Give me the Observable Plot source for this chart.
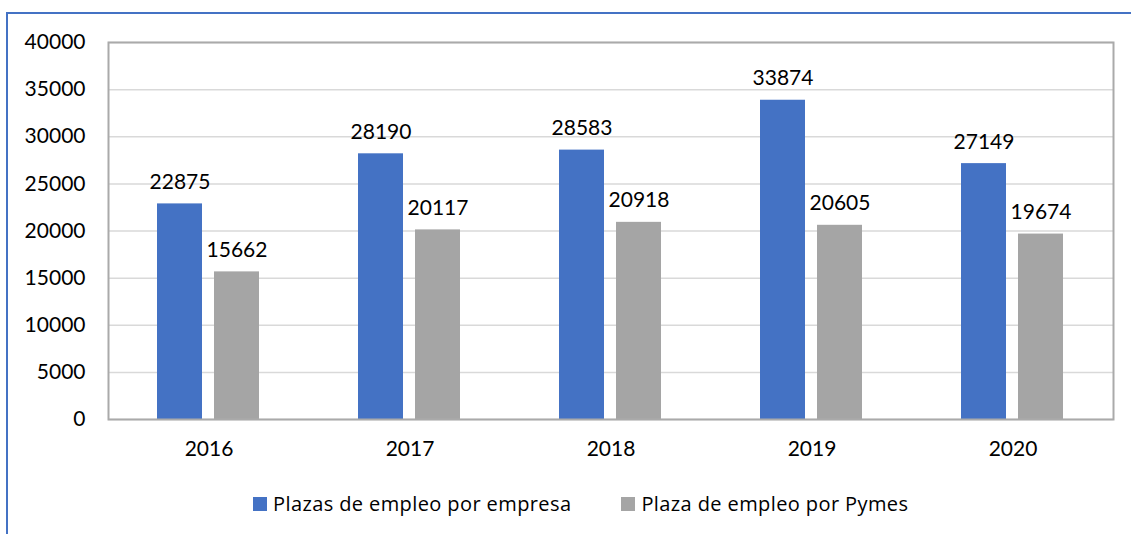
<!DOCTYPE html>
<html>
<head>
<meta charset="utf-8">
<script src="https://cdn.jsdelivr.net/npm/d3@7"></script>
<script src="https://cdn.jsdelivr.net/npm/@observablehq/plot@0.6"></script>
<style>
  html, body { margin: 0; padding: 0; background: #fff; }
  body { width: 1131px; height: 534px; position: relative; overflow: hidden; font-family: Lato, "Open Sans", sans-serif; }
  #border { position: absolute; left: 6px; top: 12px; right: 0; bottom: 0; border-top: 2px solid #4472C4; border-left: 2px solid #4472C4; }
  #chart { position: absolute; left: 0; top: 0; }
  #legend { position: absolute; left: 253px; top: 490px; display: flex; align-items: center; font-family: "Open Sans", sans-serif; font-size: 20px; letter-spacing: 0.4px; color: #000; white-space: nowrap; }
  .item { display: flex; align-items: center; margin-right: 50px; }
  .sw { width: 14px; height: 14px; margin-right: 6px; }
</style>
</head>
<body>
<div id="border"></div>
<div id="chart"></div>
<div id="legend"></div>
<script>
const years = ["2016", "2017", "2018", "2019", "2020"];
const empresa = [22875, 28190, 28583, 33874, 27149];
const pymes = [15662, 20117, 20918, 20605, 19674];
const seriesNames = ["Plazas de empleo por empresa", "Plaza de empleo por Pymes"];
const colors = ["#4472C4", "#A5A5A5"];
const yTicks = [0, 5000, 10000, 15000, 20000, 25000, 30000, 35000, 40000];

const data = years.flatMap((yr, i) => [
  {year: yr, series: seriesNames[0], value: empresa[i]},
  {year: yr, series: seriesNames[1], value: pymes[i]}
]);

const chart = Plot.plot({
  width: 1131,
  height: 470,
  marginTop: 42,
  marginLeft: 108,
  marginRight: 18,
  marginBottom: 51,
  style: {fontFamily: "Lato, 'Open Sans', sans-serif", fontSize: "21px", color: "#000", background: "transparent"},
  fx: {domain: years, padding: 0, label: null, axis: "bottom", tickSize: 0, tickPadding: 22},
  x: {domain: seriesNames, paddingInner: 0.2105, paddingOuter: 0.868, axis: null},
  y: {domain: [0, 40000], ticks: yTicks, tickFormat: "d", tickSize: 0, tickPadding: 23, label: null},
  color: {domain: seriesNames, range: colors},
  marks: [
    Plot.gridY(yTicks, {stroke: "#d9d9d9", strokeOpacity: 1, strokeWidth: 1.5}),
    Plot.barY(data, {fx: "year", x: "series", y: "value", fill: "series"}),
    Plot.text(data, {fx: "year", x: "series", y: "value", text: d => String(d.value), lineAnchor: "bottom", dy: -15, fontSize: 21, fill: "#000"}),
    Plot.frame({facet: "super", stroke: "#aaaaaa", strokeWidth: 2})
  ]
});
document.getElementById("chart").appendChild(chart);

const legend = document.getElementById("legend");
seriesNames.forEach((name, i) => {
  const item = document.createElement("div");
  item.className = "item";
  const sw = document.createElement("span");
  sw.className = "sw";
  sw.style.background = colors[i];
  const label = document.createElement("span");
  label.textContent = name;
  item.appendChild(sw);
  item.appendChild(label);
  legend.appendChild(item);
});
</script>
</body>
</html>
